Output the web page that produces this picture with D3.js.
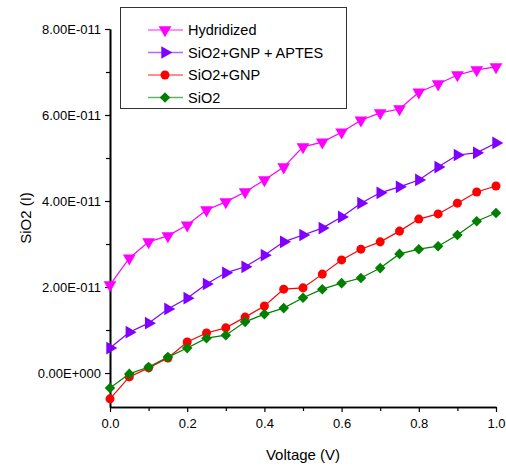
<!DOCTYPE html>
<html lang="en">
<head>
    <meta charset="UTF-8">
    <title>SiO2 I-V</title>
    <script src="https://d3js.org/d3.v7.min.js"></script>
    <style>
        body { margin: 0; background: #fff; }
        text { font-family: "Liberation Sans", Arial, sans-serif; fill: #000; }
    </style>
</head>
<body>
<script>
    // data, current in units of 1e-11 A
    var voltage = [0, 0.05, 0.1, 0.15, 0.2, 0.25, 0.3, 0.35, 0.4, 0.45, 0.5,
                   0.55, 0.6, 0.65, 0.7, 0.75, 0.8, 0.85, 0.9, 0.95, 1.0];
    var hydridized = [2.05, 2.67, 3.05, 3.19, 3.44, 3.79, 3.98, 4.21, 4.49, 4.79, 5.26,
                      5.37, 5.60, 5.88, 6.05, 6.14, 6.53, 6.72, 6.93, 7.05, 7.12];
    var gnpAptes = [0.58, 0.95, 1.16, 1.49, 1.74, 2.07, 2.33, 2.47, 2.74, 3.05, 3.21,
                    3.37, 3.63, 3.95, 4.19, 4.33, 4.49, 4.79, 5.07, 5.12, 5.35];
    var gnp = [-0.60, -0.09, 0.12, 0.35, 0.72, 0.93, 1.05, 1.30, 1.56, 1.95, 1.98,
               2.30, 2.63, 2.88, 3.05, 3.30, 3.58, 3.70, 3.95, 4.21, 4.35];
    var sio2 = [-0.35, -0.02, 0.14, 0.37, 0.58, 0.81, 0.88, 1.19, 1.37, 1.51, 1.75,
                1.95, 2.09, 2.21, 2.44, 2.77, 2.88, 2.95, 3.21, 3.53, 3.72];
    var seriesNames = ["Hydridized", "SiO2+GNP + APTES", "SiO2+GNP", "SiO2"];
    var yTicks = [0, 2, 4, 6, 8];
    var xTicks = [0, 0.2, 0.4, 0.6, 0.8, 1.0];

    var w = 506, h = 466;
    var margin = {top: 29, right: 10, bottom: 59, left: 110};
    var innerW = 496 - margin.left;
    var innerH = 407 - margin.top;

    var series = [
        {name: seriesNames[0], values: hydridized, color: "#ff00ff", shape: "down"},
        {name: seriesNames[1], values: gnpAptes, color: "#8000ff", shape: "right"},
        {name: seriesNames[2], values: gnp, color: "#ff0000", shape: "circle"},
        {name: seriesNames[3], values: sio2, color: "#008000", shape: "diamond"}
    ];

    var x = d3.scaleLinear().domain([0, 1]).range([0, innerW]);
    var y = d3.scaleLinear().domain([-0.79, 8]).range([innerH, 0]);

    function sciLabel(v) {
        if (v === 0) return "0.00E+000";
        var val = v * 1e-11;
        var e = Math.floor(Math.log10(Math.abs(val)));
        var m = val / Math.pow(10, e);
        var sign = e < 0 ? "-" : "+";
        return m.toFixed(2) + "E" + sign + String(Math.abs(e)).padStart(3, "0");
    }

    var svg = d3.select("body")
        .append("svg")
        .attr("width", w)
        .attr("height", h);

    var g = svg.append("g")
        .attr("transform", "translate(" + margin.left + "," + margin.top + ")");

    // axes
    var yAxis = d3.axisLeft(y).tickValues(yTicks).tickFormat(sciLabel).tickSize(5).tickSizeOuter(0);
    var yMinor = d3.axisLeft(y).tickValues([1, 3, 5, 7]).tickFormat("").tickSize(4).tickSizeOuter(0);
    var xAxis = d3.axisBottom(x).tickValues(xTicks).tickFormat(d3.format(".1f")).tickSize(5).tickSizeOuter(0);
    var xMinor = d3.axisBottom(x).tickValues([0.1, 0.3, 0.5, 0.7, 0.9]).tickFormat("").tickSize(4).tickSizeOuter(0);

    g.append("g").call(yMinor);
    g.append("g").attr("class", "yaxis").call(yAxis);
    g.append("g").attr("transform", "translate(0," + innerH + ")").call(xMinor);
    g.append("g").attr("class", "xaxis").attr("transform", "translate(0," + innerH + ")").call(xAxis);

    g.selectAll(".domain").attr("stroke", "#000").attr("stroke-width", 1.6);
    g.selectAll(".tick line").attr("stroke", "#000").attr("stroke-width", 1.2);
    g.selectAll(".tick text")
        .style("font-family", "'Liberation Sans', Arial, sans-serif")
        .style("font-size", "13px")
        .attr("fill", "#000");
    g.selectAll(".yaxis .tick text").attr("x", -9);
    g.selectAll(".xaxis .tick text").attr("y", 12);

    // axis titles
    svg.append("text")
        .attr("transform", "translate(31," + (margin.top + innerH / 2) + ") rotate(-90)")
        .attr("text-anchor", "middle")
        .style("font-size", "15px")
        .text("SiO2 (I)");

    svg.append("text")
        .attr("x", margin.left + innerW / 2)
        .attr("y", 460)
        .attr("text-anchor", "middle")
        .style("font-size", "15px")
        .text("Voltage (V)");

    function symbolPath(shape) {
        if (shape === "circle") return d3.symbol().type(d3.symbolCircle).size(64)();
        if (shape === "diamond") return d3.symbol().type(d3.symbolSquare).size(56)();
        return d3.symbol().type(d3.symbolTriangle).size(70)();
    }
    function symbolRotate(shape) {
        if (shape === "down") return 180;
        if (shape === "right") return 90;
        if (shape === "diamond") return 45;
        return 0;
    }

    var line = d3.line()
        .x(function(d) { return x(d.v); })
        .y(function(d) { return y(d.i); });

    series.forEach(function(s) {
        var pts = voltage.map(function(v, k) { return {v: v, i: s.values[k]}; });
        g.append("path")
            .datum(pts)
            .attr("fill", "none")
            .attr("stroke", s.color)
            .attr("stroke-width", 1.2)
            .attr("d", line);
        g.selectAll(null)
            .data(pts)
            .enter()
            .append("path")
            .attr("d", symbolPath(s.shape))
            .attr("fill", s.color)
            .attr("transform", function(d) {
                return "translate(" + x(d.v) + "," + y(d.i) + ") rotate(" + symbolRotate(s.shape) + ")";
            });
    });

    // legend
    var legend = svg.append("g");
    legend.append("rect")
        .attr("x", 120.5)
        .attr("y", 7.5)
        .attr("width", 226)
        .attr("height", 101)
        .attr("fill", "#fff")
        .attr("stroke", "#333")
        .attr("stroke-width", 1);

    series.forEach(function(s, k) {
        var ly = 30 + k * 22.5;
        legend.append("line")
            .attr("x1", 148).attr("x2", 183)
            .attr("y1", ly).attr("y2", ly)
            .attr("stroke", s.color)
            .attr("stroke-opacity", 0.6)
            .attr("stroke-width", 1.5);
        legend.append("path")
            .attr("d", symbolPath(s.shape))
            .attr("fill", s.color)
            .attr("transform", "translate(165," + ly + ") rotate(" + symbolRotate(s.shape) + ")");
        legend.append("text")
            .attr("x", 188)
            .attr("y", ly + 5)
            .style("font-size", "14.5px")
            .text(s.name);
    });
</script>
</body>
</html>
